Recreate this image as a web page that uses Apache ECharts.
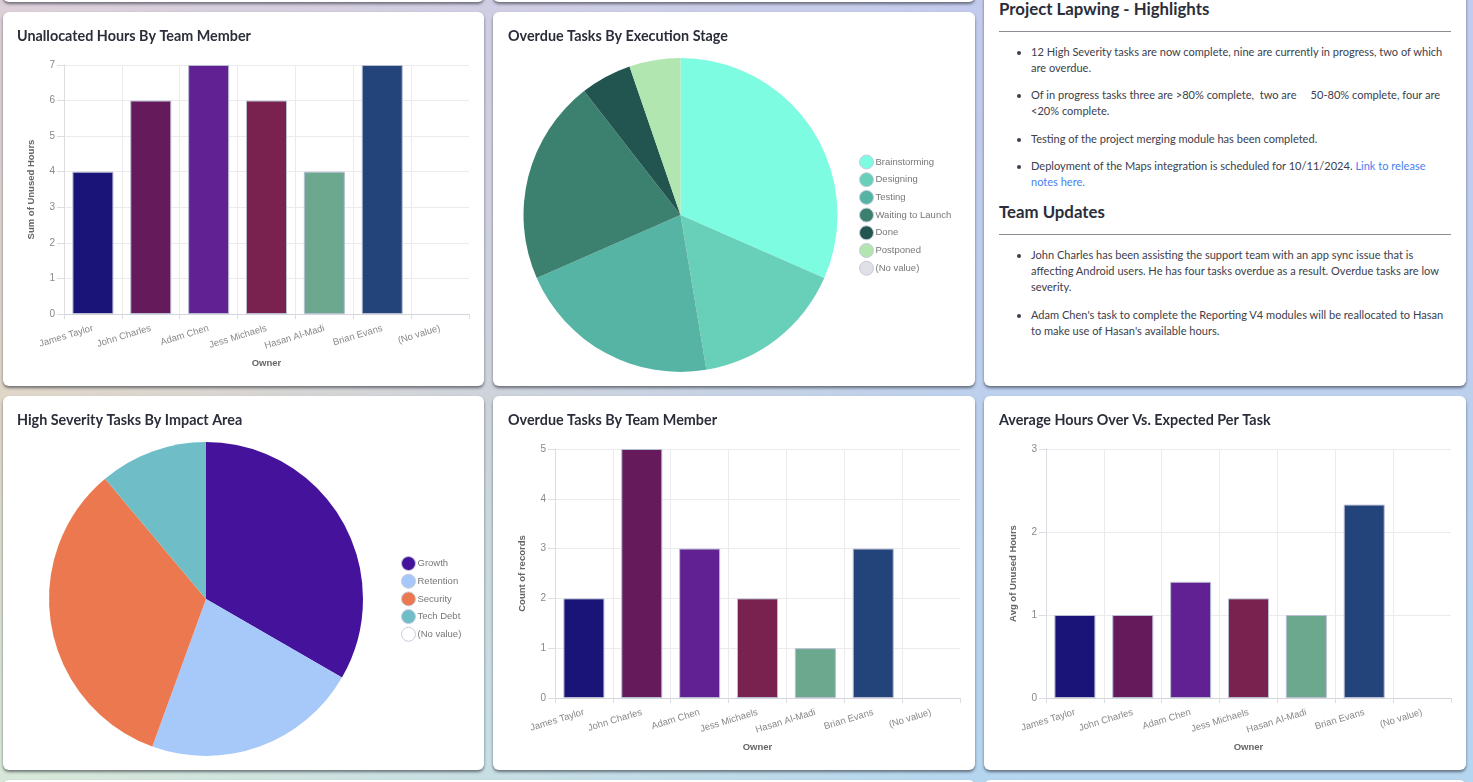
<!DOCTYPE html>
<html>
<head>
<meta charset="utf-8">
<title>Project Lapwing</title>
<script src="https://cdn.jsdelivr.net/npm/echarts@6/dist/echarts.min.js"></script>
<style>
  html, body { margin: 0; height: 100%; overflow: hidden; }
  body {
    width: 1473px; height: 782px; position: relative; font-family: Lato, sans-serif;
    background: linear-gradient(180deg, #c3cbee 0%, #bcd0ee 50%, #b5d6f0 100%);
  }
  #wash {
    position: absolute; left: 0; top: 0; width: 1000px; height: 782px;
    background: linear-gradient(180deg, #dccfd8 0%, #e0d6c8 50%, #d8e8d8 100%);
    -webkit-mask-image: linear-gradient(to right, #000 0%, rgba(0,0,0,0) 100%);
    mask-image: linear-gradient(to right, #000 0%, rgba(0,0,0,0) 100%);
  }
  .card {
    position: absolute; background: #fff; border-radius: 6px; width: 481px;
    box-shadow: 0 2px 3px rgba(40,44,52,.6);
  }
  .chart { width: 100%; height: 100%; }
  #notes { color: #3c404c; font-size: 11.05px; line-height: 16px; overflow: hidden; }
  #notes h2 { font-size: 16.8px; font-weight: 700; color: #2a2e3a; margin: 0 15px; line-height: 22px; }
  #notes hr { border: 0; border-top: 1px solid #8a8d94; margin: 11px 15px 0; }
  #notes ul { margin: 12px 15px 0 0; padding: 0 0 0 47px; }
  #notes li { margin-bottom: 11.3px; }
  #notes li:last-child { margin-bottom: 0; }
  #notes a { color: #4a80ef; text-decoration: none; }
</style>
</head>
<body>
<div id="wash"></div>
<div class="card" style="left:3px;top:-40px;height:42px"></div>
<div class="card" style="left:493px;top:-40px;height:42px;width:482px"></div>
<div class="card" style="left:3px;top:780px;height:40px;width:972px"></div>
<div class="card" style="left:984px;top:780px;height:40px;width:482px"></div>

<div class="card" style="left:3px;top:12px;height:374px"><div class="chart" id="unallocated"></div></div>
<div class="card" style="left:493px;top:12px;height:374px;width:482px"><div class="chart" id="stage"></div></div>
<div class="card" id="notes" style="left:984px;top:-20px;height:406px;width:482px">
  <h2 style="margin-top:18px">Project Lapwing - Highlights</h2>
  <hr>
  <ul>
    <li>12 High Severity tasks are now complete, nine are currently in progress, two of which are overdue.</li>
    <li>Of in progress tasks three are &gt;80% complete, &nbsp;two are &nbsp; &nbsp; 50-80% complete, four are &lt;20% complete.</li>
    <li>Testing of the project merging module has been completed.</li>
    <li>Deployment of the Maps integration is scheduled for 10/11/2024. <a href="#">Link to release notes here.</a></li>
  </ul>
  <h2 style="margin-top:11.4px">Team Updates</h2>
  <hr>
  <ul>
    <li>John Charles has been assisting the support team with an app sync issue that is affecting Android users. He has four tasks overdue as a result. Overdue tasks are low severity.</li>
    <li>Adam Chen's task to complete the Reporting V4 modules will be reallocated to Hasan to make use of Hasan's available hours.</li>
  </ul>
</div>

<div class="card" style="left:3px;top:396px;height:374px"><div class="chart" id="impact"></div></div>
<div class="card" style="left:493px;top:396px;height:374px;width:482px"><div class="chart" id="overdue"></div></div>
<div class="card" style="left:984px;top:396px;height:374px;width:482px"><div class="chart" id="average"></div></div>

<script>
var owners = ['James Taylor', 'John Charles', 'Adam Chen', 'Jess Michaels', 'Hasan Al-Madi', 'Brian Evans', '(No value)']
var ownerColors = ['#1b1478', '#651a5c', '#622192', '#79214f', '#6ba88d', '#23447b', '#dfe1e6']
var unusedHours = [4, 6, 7, 6, 4, 7, null]
var overdueCounts = [2, 5, 3, 2, 1, 3, null]
var avgHours = [1, 1, 1.4, 1.2, 1, 2.33, null]

var stages = ['Brainstorming', 'Designing', 'Testing', 'Waiting to Launch', 'Done', 'Postponed', '(No value)']
var stageCounts = [6, 3, 4, 4, 1, 1, 0]
var stageColors = ['#7dfce2', '#68d0b9', '#55b4a3', '#3c8170', '#235550', '#b1e6b0', '#dfe1e6']

var impacts = ['Growth', 'Retention', 'Security', 'Tech Debt', '(No value)']
var impactCounts = [3, 2, 3, 1, 0]
var impactColors = ['#44129b', '#a7c9f9', '#ec7850', '#6fbdc7', '#ffffff']

var sansFont = '"Liberation Sans", Arial, sans-serif'

function titleOf (text, left) {
  return {
    text: text,
    left: left,
    top: 15,
    padding: 0,
    textStyle: { fontFamily: 'Lato', fontWeight: 700, fontSize: 14.35, color: '#2a2e3a', lineHeight: 18 }
  }
}

function barOption (title, yName, values, max, gridLeft) {
  return {
    animation: false,
    title: titleOf(title, gridLeft === 61 ? 14 : 15),
    grid: { left: gridLeft, top: 53, width: 405, height: 249 },
    xAxis: {
      type: 'category',
      data: owners,
      name: 'Owner',
      nameLocation: 'middle',
      nameGap: 44,
      nameTextStyle: { fontFamily: sansFont, fontWeight: 'bold', fontSize: 9.5, color: '#666' },
      axisLine: { lineStyle: { color: '#d3d4dc' } },
      axisTick: { show: true, length: 5, lineStyle: { color: '#dcdde2' } },
      axisLabel: { interval: 0, rotate: 17, fontFamily: sansFont, fontSize: 9.5, color: '#888', margin: 14 },
      splitLine: { show: true, showMaxLine: false, lineStyle: { color: '#ebebee' } }
    },
    yAxis: {
      type: 'value',
      min: 0,
      max: max,
      interval: 1,
      name: yName,
      nameLocation: 'middle',
      nameGap: 28,
      nameTextStyle: { fontFamily: sansFont, fontWeight: 'bold', fontSize: 9.5, color: '#666' },
      axisLine: { show: true, lineStyle: { color: '#dcdde2' } },
      axisTick: { show: true, length: 7, lineStyle: { color: '#dcdde2' } },
      axisLabel: { fontFamily: sansFont, fontSize: 10, color: '#888', margin: 9 },
      splitLine: { lineStyle: { color: '#ebebee' } }
    },
    series: [{
      type: 'bar',
      barWidth: 41,
      data: values.map(function (v, i) {
        return { value: v, itemStyle: { color: ownerColors[i], borderColor: '#b9bdd2', borderWidth: 1 } }
      })
    }]
  }
}

function pieOption (title, names, values, colors, cx, legendLeft, legendTop) {
  return {
    animation: false,
    title: titleOf(title, cx === 203 ? 14 : 15),
    legend: {
      orient: 'vertical',
      left: legendLeft,
      top: legendTop,
      padding: 0,
      icon: 'circle',
      itemWidth: 14,
      itemHeight: 14,
      itemGap: 2.7,
      itemStyle: { borderColor: '#c6cbdc', borderWidth: 1 },
      textStyle: { fontFamily: sansFont, fontSize: 9.5, color: '#777', padding: [0, 0, 0, -3] },
      data: names
    },
    series: [{
      type: 'pie',
      center: [cx, 203],
      radius: [0, 157],
      startAngle: 90,
      label: { show: false },
      labelLine: { show: false },
      data: names.map(function (n, i) {
        return { name: n, value: values[i], itemStyle: { color: colors[i] } }
      })
    }]
  }
}

var charts = {
  unallocated: barOption('Unallocated Hours By Team Member', 'Sum of Unused Hours', unusedHours, 7, 61),
  stage: pieOption('Overdue Tasks By Execution Stage', stages, stageCounts, stageColors, 187.5, 366, 142.5),
  impact: pieOption('High Severity Tasks By Impact Area', impacts, impactCounts, impactColors, 203, 398, 160),
  overdue: barOption('Overdue Tasks By Team Member', 'Count of records', overdueCounts, 5, 62),
  average: barOption('Average Hours Over Vs. Expected Per Task', 'Avg of Unused Hours', avgHours, 3, 62)
}

Object.keys(charts).forEach(function (id) {
  var myChart = echarts.init(document.getElementById(id))
  myChart.setOption(charts[id])
})
</script>
</body>
</html>
